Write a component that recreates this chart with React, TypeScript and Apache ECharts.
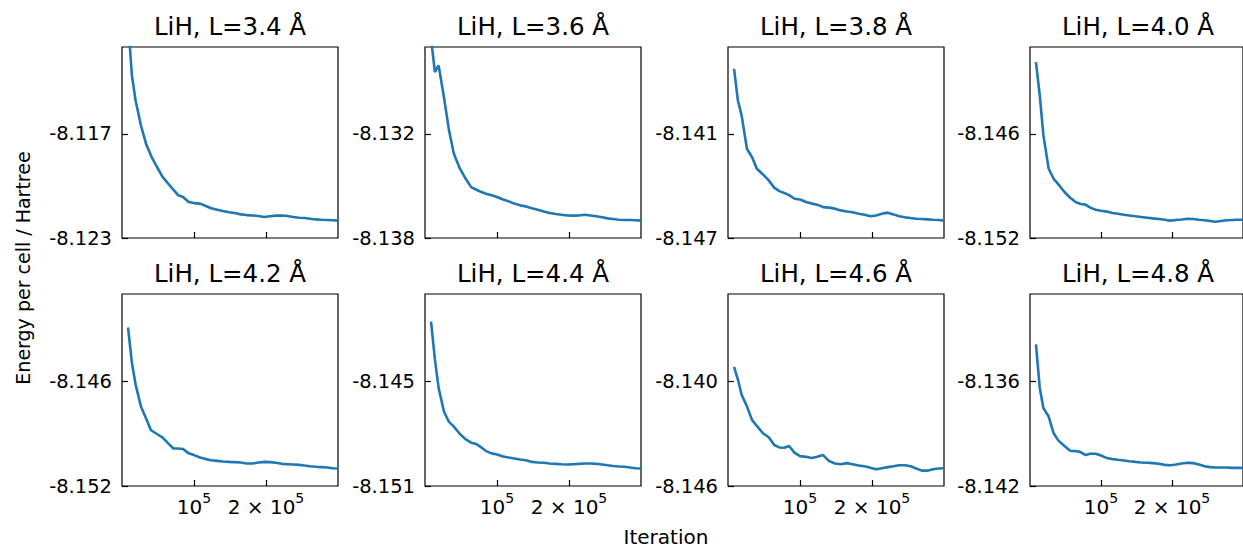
import React, { useEffect, useRef } from "react";
import * as echarts from "echarts";

// Shared iteration grid (log-scaled x axis)
const iterations = [
  53000, 55000, 57000, 60000, 63000, 66000, 70000, 74000, 78000, 82000, 86000, 90000, 95000,
  100000, 106000, 112000, 118000, 125000, 132000, 140000, 148000, 157000, 166000, 176000, 186000,
  197000, 208000, 220000, 233000, 246000, 260000, 275000, 290000, 306000, 323000, 341000, 360000,
  380000, 400000,
];

const lengths = ["3.4", "3.6", "3.8", "4.0", "4.2", "4.4", "4.6", "4.8"];
const yMins = [-8.123, -8.138, -8.147, -8.152, -8.152, -8.151, -8.146, -8.142];
const yTickStep = 0.006;
const ySpan = 0.011;
const xMin = 50000;
const xMax = 400000;
const xTicks = [100000, 200000];

const energyL34 = [-8.1105, -8.11364, -8.11508, -8.11652, -8.11757, -8.11824, -8.11891, -8.11949, -8.11987, -8.12022, -8.12054, -8.12064, -8.12093, -8.12099, -8.12102, -8.12116, -8.12129, -8.12137, -8.12145, -8.12152, -8.12156, -8.12164, -8.12168, -8.1217, -8.12173, -8.12179, -8.12175, -8.12171, -8.1217, -8.12173, -8.12179, -8.12183, -8.12185, -8.12189, -8.12193, -8.12195, -8.12196, -8.12198, -8.122];
const energyL36 = [-8.1265, -8.12845, -8.12806, -8.12989, -8.1318, -8.13315, -8.13401, -8.13459, -8.13507, -8.13522, -8.13535, -8.13545, -8.13554, -8.13564, -8.13578, -8.13589, -8.13602, -8.13612, -8.13618, -8.13629, -8.13637, -8.13647, -8.13656, -8.13662, -8.13666, -8.1367, -8.13671, -8.1367, -8.13666, -8.1367, -8.13675, -8.13681, -8.13687, -8.13691, -8.13695, -8.13696, -8.13696, -8.13698, -8.137];
const energyL38 = [-8.13726, -8.13908, -8.13994, -8.14186, -8.14234, -8.14301, -8.14334, -8.14368, -8.1441, -8.1443, -8.14441, -8.14453, -8.14474, -8.14478, -8.14493, -8.14502, -8.14508, -8.14522, -8.14525, -8.14531, -8.14541, -8.14547, -8.14552, -8.1456, -8.14566, -8.14575, -8.1457, -8.1456, -8.14554, -8.14564, -8.14575, -8.14581, -8.14585, -8.14589, -8.14591, -8.14593, -8.14595, -8.14596, -8.146];
const energyL40 = [-8.14187, -8.14379, -8.14609, -8.14801, -8.14859, -8.14891, -8.14935, -8.14968, -8.14993, -8.15004, -8.15008, -8.15025, -8.15037, -8.15043, -8.15048, -8.15056, -8.1506, -8.15066, -8.1507, -8.15075, -8.15079, -8.15083, -8.15087, -8.15091, -8.15095, -8.151, -8.15096, -8.15093, -8.15089, -8.15091, -8.15095, -8.15098, -8.15102, -8.15106, -8.15102, -8.15098, -8.15096, -8.15095, -8.15095];
const energyL42 = [-8.14292, -8.14494, -8.14619, -8.14744, -8.14812, -8.14879, -8.14902, -8.14923, -8.14956, -8.14985, -8.14985, -8.14988, -8.15013, -8.15023, -8.15037, -8.15046, -8.15052, -8.15056, -8.1506, -8.15062, -8.15063, -8.15065, -8.15071, -8.15071, -8.15065, -8.15062, -8.15063, -8.15067, -8.15073, -8.15075, -8.15077, -8.15079, -8.15083, -8.15087, -8.1509, -8.15092, -8.15094, -8.15098, -8.151];
const energyL44 = [-8.14158, -8.14375, -8.14538, -8.14673, -8.14733, -8.1476, -8.14802, -8.14833, -8.14852, -8.1486, -8.14879, -8.149, -8.14913, -8.14919, -8.14931, -8.14937, -8.14942, -8.14948, -8.14952, -8.14962, -8.14965, -8.14967, -8.14971, -8.14973, -8.14975, -8.14977, -8.14975, -8.14973, -8.14971, -8.14971, -8.14973, -8.14977, -8.14981, -8.14985, -8.14988, -8.1499, -8.14994, -8.14998, -8.15];
const energyL46 = [-8.13917, -8.1399, -8.14077, -8.14144, -8.14221, -8.14256, -8.14298, -8.14321, -8.14365, -8.14379, -8.14381, -8.14371, -8.1441, -8.14429, -8.14433, -8.1444, -8.14433, -8.14423, -8.14456, -8.14471, -8.14475, -8.14469, -8.14475, -8.14483, -8.14487, -8.14496, -8.14504, -8.14498, -8.14492, -8.14487, -8.14481, -8.14481, -8.14487, -8.145, -8.14512, -8.14512, -8.14504, -8.145, -8.14498];
const energyL48 = [-8.13388, -8.13638, -8.13754, -8.13802, -8.13898, -8.1394, -8.13971, -8.13998, -8.14, -8.14006, -8.14023, -8.14015, -8.14015, -8.14025, -8.1404, -8.14046, -8.1405, -8.14054, -8.14058, -8.14062, -8.14065, -8.14067, -8.14069, -8.14073, -8.14079, -8.14081, -8.14077, -8.14071, -8.14067, -8.14069, -8.14077, -8.14087, -8.14092, -8.14094, -8.14094, -8.14094, -8.14096, -8.14096, -8.14096];

const energies = [energyL34, energyL36, energyL38, energyL40, energyL42, energyL44, energyL46, energyL48];

const FONT = "DejaVu Sans";
const colLefts = [122, 425, 728, 1030];
const rowTops = [47, 294];
const rowHeights = [191, 192];
const panelWidth = 216;

function buildOption() {
  const grid: any[] = [];
  const xAxis: any[] = [];
  const yAxis: any[] = [];
  const series: any[] = [];
  const graphic: any[] = [];

  energies.forEach((vals, i) => {
    const row = Math.floor(i / 4);
    const col = i % 4;
    const yMin = yMins[i];
    const yTicks = [yMin, yMin + yTickStep];
    grid.push({
      left: colLefts[col],
      top: rowTops[row],
      width: panelWidth,
      height: rowHeights[row],
      show: true,
      borderColor: "#000",
      borderWidth: 1.2,
      backgroundColor: "transparent",
    });
    xAxis.push({
      gridIndex: i,
      type: "log",
      logBase: 10,
      min: xMin,
      max: xMax,
      axisLine: { show: false },
      splitLine: { show: false },
      minorTick: { show: false },
      axisTick: {
        show: true,
        inside: true,
        length: 6,
        customValues: xTicks,
        lineStyle: { color: "#000", width: 1.2 },
      },
      axisLabel: {
        show: row === 1,
        customValues: xTicks,
        margin: 5,
        formatter: (v: number) =>
          Math.abs(v - 100000) < 1 ? "{n|10}{s|5}" : "{n|2 × 10}{s|5}",
        rich: {
          n: { fontSize: 20, fontFamily: FONT, color: "#000", lineHeight: 26, verticalAlign: "bottom" },
          s: { fontSize: 14, fontFamily: FONT, color: "#000", lineHeight: 26, verticalAlign: "top" },
        },
      },
    });
    yAxis.push({
      gridIndex: i,
      type: "value",
      min: yMin,
      max: yMin + ySpan,
      axisLine: { show: false },
      splitLine: { show: false },
      axisTick: {
        show: true,
        inside: true,
        length: 6,
        customValues: yTicks,
        lineStyle: { color: "#000", width: 1.2 },
      },
      axisLabel: {
        customValues: yTicks,
        formatter: (v: number) => v.toFixed(3),
        fontSize: 19.5,
        fontFamily: FONT,
        color: "#000",
        margin: 10,
      },
    });
    series.push({
      type: "line",
      xAxisIndex: i,
      yAxisIndex: i,
      data: iterations.map((x, k) => [x, vals[k]]),
      showSymbol: false,
      clip: true,
      lineStyle: { color: "#1f77b4", width: 2.6 },
    });
    graphic.push({
      type: "text",
      x: colLefts[col] + panelWidth / 2,
      y: rowTops[row] - 21,
      style: {
        text: `LiH, L=${lengths[i]} Å`,
        fontSize: 24.5,
        fontFamily: FONT,
        fill: "#000",
        align: "center",
        verticalAlign: "middle",
        textAlign: "center",
        textVerticalAlign: "middle",
      },
    });
  });

  graphic.push({
    type: "text",
    x: 23,
    y: 268,
    rotation: Math.PI / 2,
    style: {
      text: "Energy per cell / Hartree",
      fontSize: 19,
      fontFamily: FONT,
      fill: "#000",
      align: "center",
      verticalAlign: "middle",
      textAlign: "center",
      textVerticalAlign: "middle",
    },
  });
  graphic.push({
    type: "text",
    x: 666,
    y: 537,
    style: {
      text: "Iteration",
      fontSize: 20,
      fontFamily: FONT,
      fill: "#000",
      align: "center",
      verticalAlign: "middle",
      textAlign: "center",
      textVerticalAlign: "middle",
    },
  });

  return {
    animation: false,
    backgroundColor: "#fff",
    grid,
    xAxis,
    yAxis,
    series,
    graphic,
  };
}

export default function App() {
  const ref = useRef<HTMLDivElement>(null);
  useEffect(() => {
    document.body.style.margin = "0";
    if (!ref.current) return;
    const chart = echarts.init(ref.current, undefined, { renderer: "svg" });
    chart.setOption(buildOption() as any);
    return () => chart.dispose();
  }, []);
  return <div ref={ref} style={{ width: 1243, height: 548 }} />;
}
